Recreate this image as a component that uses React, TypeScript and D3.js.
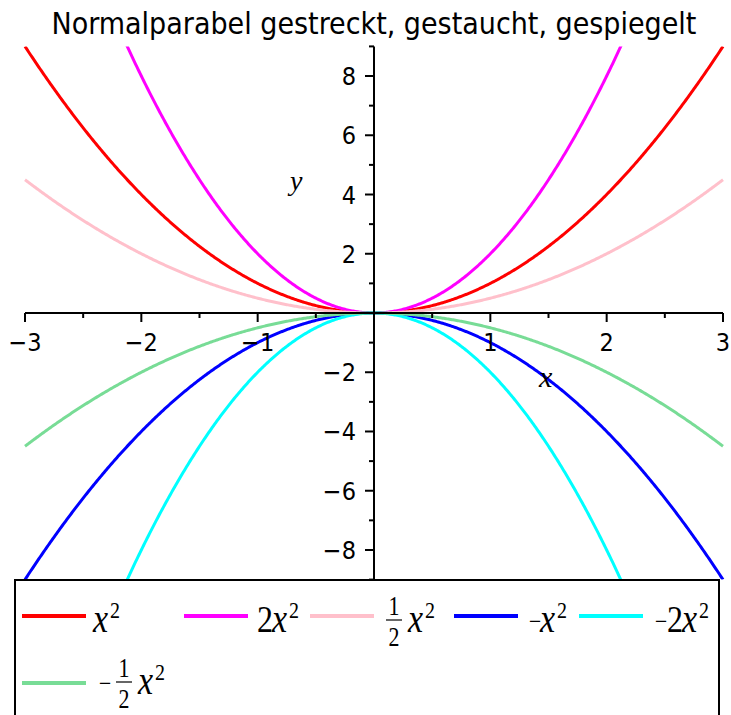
import React from "react";
import * as d3 from "d3";

// ---- data ----
const title = "Normalparabel gestreckt, gestaucht, gespiegelt";
const coefficients = [1, 2, 0.5, -1, -2, -0.5];
const colors = ["#FF0000", "#FF00FF", "#FFC0CB", "#0000FF", "#00FFFF", "#78DC96"];
const xTicksMajor = [-3, -2, -1, 1, 2, 3];
const xTicksMinor = [-2.5, -1.5, -0.5, 0.5, 1.5, 2.5];
const yTicksMajor = [-8, -6, -4, -2, 2, 4, 6, 8];
const yTicksMinor = [-9, -7, -5, -3, -1, 1, 3, 5, 7, 9];
const xDomain = [-3, 3];
const yDomain = [-9, 9];

// ---- layout ----
const W = 731;
const H = 715;
const legendSlots = [
  { x: 22, y: 616, lx: 93, base: 632 },
  { x: 184, y: 616, lx: 257, base: 632 },
  { x: 310, y: 616, lx: 386, base: 632 },
  { x: 454, y: 616, lx: 530, base: 632 },
  { x: 579, y: 616, lx: 656, base: 632 },
  { x: 22, y: 683, lx: 100, base: 694 },
];

const serif = "'Liberation Serif', 'Times New Roman', serif";
const sans = "'DejaVu Sans Condensed', 'DejaVu Sans', sans-serif";

function fmt(v: number) {
  return v < 0 ? "\u2212" + Math.abs(v) : String(v);
}

const SY = 1.2;

function LegendLabel({ c, x, y }: { c: number; x: number; y: number }) {
  const neg = c < 0;
  const a = Math.abs(c);
  const frac = a === 0.5;
  const parts: React.ReactNode[] = [];
  let cx = 0;
  if (neg) {
    parts.push(
      <text key="m" x={cx - 1} y={-2 / SY} fontFamily={serif} fontSize={22}>
        {"\u2212"}
      </text>
    );
    cx += frac ? 16 : 10;
    if (!frac && a !== 1) cx += 1;
  }
  if (frac) {
    parts.push(
      <g key="f">
        <text x={cx + 8} y={-17 / SY} fontFamily={serif} fontSize={22} textAnchor="middle">1</text>
        <line x1={cx} x2={cx + 16} y1={-12 / SY} y2={-12 / SY} stroke="#000" strokeWidth={1} />
        <text x={cx + 8} y={14 / SY} fontFamily={serif} fontSize={22} textAnchor="middle">2</text>
      </g>
    );
    cx += 22;
  } else if (a !== 1) {
    parts.push(
      <text key="c" x={cx} y={0} fontFamily={serif} fontSize={32}>
        {String(a)}
      </text>
    );
    cx += 15;
  }
  parts.push(
    <text key="x" x={cx} y={0} fontFamily={serif} fontSize={34} fontStyle="italic">
      x
    </text>
  );
  parts.push(
    <text key="s" x={cx + 17} y={-14 / SY} fontFamily={serif} fontSize={20}>
      2
    </text>
  );
  return <g transform={`translate(${x},${y}) scale(1,${SY})`}>{parts}</g>;
}

export default function App() {
  const xs = d3.scaleLinear().domain(xDomain).range([25, 723]);
  const ys = d3.scaleLinear().domain(yDomain).range([579.6, 46.4]);
  const samples = d3.range(xDomain[0], xDomain[1] + 1e-9, 0.01);

  const x0 = xs(0);
  const y0 = ys(0);

  return (
    <svg width={W} height={H} style={{ position: "absolute", left: 0, top: 0 }}>
      <rect width={W} height={H} fill="#fff" />
      <defs>
        <clipPath id="plotclip">
          <rect x={xs(xDomain[0]) - 2} y={ys(yDomain[1])} width={xs(xDomain[1]) - xs(xDomain[0]) + 4} height={ys(yDomain[0]) - ys(yDomain[1])} />
        </clipPath>
      </defs>
      <text x={374} y={34} textAnchor="middle" fontFamily={sans} fontSize={30} fill="#000">
        {title}
      </text>

      <g clipPath="url(#plotclip)">
        {coefficients.map((c, i) => {
          const l = d3
            .line<number>()
            .x((d) => xs(d))
            .y((d) => ys(c * d * d));
          return <path key={i} d={l(samples) || ""} fill="none" stroke={colors[i]} strokeWidth={3} />;
        })}
      </g>

      {/* axes */}
      <line x1={xs(xDomain[0])} x2={xs(xDomain[1])} y1={y0} y2={y0} stroke="#000" strokeWidth={2} />
      <line x1={x0} x2={x0} y1={ys(yDomain[1])} y2={ys(yDomain[0])} stroke="#000" strokeWidth={2} />
      {xTicksMajor.map((t) => (
        <g key={"xM" + t}>
          <line x1={xs(t)} x2={xs(t)} y1={y0} y2={y0 + 9} stroke="#000" strokeWidth={2} />
          <text x={xs(t)} y={351} textAnchor="middle" fontFamily={sans} fontSize={25}>
            {fmt(t)}
          </text>
        </g>
      ))}
      {xTicksMinor.map((t) => (
        <line key={"xm" + t} x1={xs(t)} x2={xs(t)} y1={y0} y2={y0 + 5} stroke="#000" strokeWidth={2} />
      ))}
      {yTicksMajor.map((t) => (
        <g key={"yM" + t}>
          <line x1={x0 - 9} x2={x0} y1={ys(t)} y2={ys(t)} stroke="#000" strokeWidth={2} />
          <text x={356} y={ys(t) + 9} textAnchor="end" fontFamily={sans} fontSize={25}>
            {fmt(t)}
          </text>
        </g>
      ))}
      {yTicksMinor.map((t) => (
        <line key={"ym" + t} x1={x0 - 5} x2={x0} y1={ys(t)} y2={ys(t)} stroke="#000" strokeWidth={2} />
      ))}
      <text x={290} y={190} fontFamily={serif} fontStyle="italic" fontSize={28}>y</text>
      <text x={539} y={387} fontFamily={serif} fontStyle="italic" fontSize={30}>x</text>

      {/* legend */}
      <rect x={15} y={580} width={704} height={150} fill="none" stroke="#000" strokeWidth={2} />
      {coefficients.map((c, i) => (
        <g key={"lg" + i}>
          <line x1={legendSlots[i].x} x2={legendSlots[i].x + 64} y1={legendSlots[i].y} y2={legendSlots[i].y} stroke={colors[i]} strokeWidth={4} />
          <LegendLabel c={c} x={legendSlots[i].lx} y={legendSlots[i].base} />
        </g>
      ))}
    </svg>
  );
}
